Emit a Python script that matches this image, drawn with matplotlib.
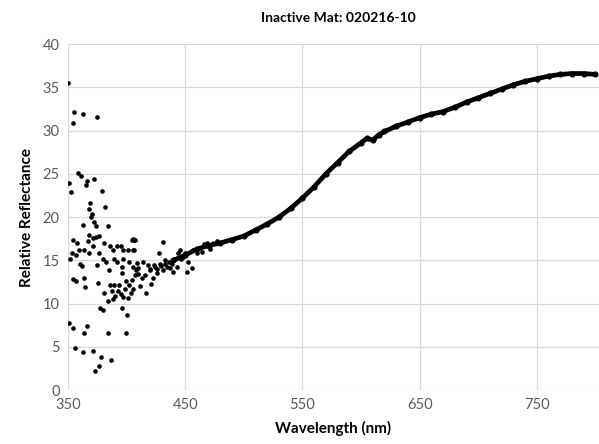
import matplotlib
matplotlib.use("Agg")
import matplotlib.pyplot as plt

plt.rcParams['font.family'] = ['Lato', 'DejaVu Sans']

# smooth part of the spectrum
wl_smooth = [440, 450, 460, 470, 480, 490, 500, 510, 520, 530, 540,
             550, 560, 570, 580, 590, 600, 605, 610, 615, 620, 630, 640, 650,
             660, 670, 680, 690, 700, 710, 720, 730, 740, 750, 760, 770, 780,
             790, 800]
refl_smooth = [15.0, 15.6, 16.3, 16.7, 17.0, 17.4, 17.8, 18.5, 19.2,
               20.0, 21.0, 22.2, 23.5, 25.0, 26.3, 27.6, 28.6, 29.1, 28.9, 29.5,
               29.9, 30.5, 31.0, 31.5, 31.9, 32.2, 32.7, 33.3, 33.8, 34.3, 34.8,
               35.3, 35.7, 36.0, 36.3, 36.5, 36.6, 36.6, 36.5]

# noisy short-wavelength points
wl_noise = [350.3, 355.1, 354.0, 363.0, 375.0, 358.8, 360.8, 351.1, 352.3, 365.9,
            365.3, 372.2, 379.0, 368.8, 368.2, 370.2, 369.6, 381.3, 362.5, 372.2,
            373.9, 383.8, 354.5, 357.4, 368.2, 371.0, 373.9, 376.7, 366.8, 371.6,
            363.6, 359.6, 353.1, 356.8, 351.7, 380.7, 385.8, 388.6, 392.0, 395.2,
            397.1, 404.3, 406.3, 401.4, 406.3, 368.2, 376.7, 379.6, 382.4, 389.2,
            391.5, 397.1, 402.3, 360.2, 361.7, 375.0, 385.2, 395.8, 395.8, 405.2,
            408.0, 410.0, 354.0, 356.8, 363.6, 364.5, 375.8, 385.8, 389.5, 393.7,
            399.4, 402.3, 387.3, 380.7, 392.9, 398.6, 403.5, 390.1, 388.1, 384.4,
            394.9, 397.1, 401.4, 377.3, 380.1, 395.8, 400.6, 351.1, 354.0, 365.9,
            363.6, 384.4, 399.4, 356.0, 363.0, 371.0, 377.9, 386.7, 376.7, 373.3,
            405.7, 407.1, 430.7, 405.7, 427.8, 408.5, 416.5, 411.4, 420.5, 422.7,
            437.0, 439.3, 438.4, 445.5, 444.0, 455.4, 451.2, 414.2, 418.5, 419.9,
            415.6, 412.8, 424.2, 425.6, 428.4, 431.2, 432.7, 434.1, 441.2, 442.7,
            448.3, 452.6, 459.7, 462.5, 468.2, 473.9, 409.9, 407.1, 404.3, 405.7,
            420.0, 423.0, 426.0, 429.0, 433.0, 436.0, 446.5, 449.5, 456.5, 464.0,
            466.0, 471.0, 477.0]
refl_noise = [35.5, 32.2, 30.9, 31.9, 31.6, 25.1, 24.8, 23.9, 22.9, 24.2,
              23.7, 24.4, 23.0, 21.6, 20.9, 20.3, 20.0, 21.2, 19.1, 19.4,
              19.0, 19.0, 17.3, 17.0, 17.9, 17.6, 17.7, 17.8, 17.2, 16.6,
              16.2, 16.2, 15.9, 15.6, 15.1, 17.0, 16.6, 16.2, 16.7, 16.6,
              16.2, 17.4, 17.3, 16.2, 16.2, 15.8, 15.8, 15.1, 14.8, 15.1,
              14.8, 15.1, 14.8, 14.6, 14.3, 14.4, 13.9, 14.2, 13.5, 14.2,
              13.9, 13.4, 12.8, 12.6, 13.0, 11.9, 12.4, 12.2, 12.2, 12.2,
              12.6, 12.1, 11.5, 11.2, 11.5, 11.7, 11.2, 10.9, 10.5, 10.3,
              11.1, 10.7, 10.6, 9.5, 9.3, 9.5, 8.7, 7.8, 7.2, 7.4,
              6.6, 6.6, 6.6, 4.9, 4.4, 4.5, 3.8, 3.5, 2.8, 2.2,
              17.5, 17.3, 17.1, 16.2, 15.9, 14.7, 11.2, 12.0, 12.3, 12.9,
              14.1, 13.7, 14.6, 16.2, 15.8, 14.1, 13.7, 14.8, 14.4, 13.9,
              13.3, 12.9, 14.2, 13.5, 14.6, 13.9, 15.0, 14.2, 15.2, 14.2,
              15.4, 14.8, 15.8, 16.4, 17.0, 17.0, 14.1, 13.3, 12.7, 11.7,
              14.0, 14.5, 14.0, 14.3, 14.6, 14.8, 15.1, 15.9, 16.2, 16.0,
              16.9, 16.3, 17.2]

x_ticks = [350, 450, 550, 650, 750]
y_ticks = [0, 5, 10, 15, 20, 25, 30, 35, 40]

fig = plt.figure(figsize=(5.99, 4.44), dpi=100)
ax = fig.add_axes([0.1135, 0.1216, 0.8865, 0.779])

ax.plot(wl_smooth, refl_smooth, color='black', lw=3.4, solid_capstyle='round',
        marker='o', ms=3.4, zorder=3)
ax.scatter(wl_noise, refl_noise, s=11, color='black', zorder=3, linewidths=0)

ax.set_xlim(350, 803)
ax.set_ylim(0, 40)
ax.set_xticks(x_ticks)
ax.set_yticks(y_ticks)
ax.grid(True, color='#d9d9d9', lw=0.9)
ax.set_axisbelow(True)
for s in ax.spines.values():
    s.set_visible(False)
ax.tick_params(length=0, labelsize=10.5, colors='#595959', pad=6)

ax.set_xlabel('Wavelength (nm)', fontsize=11, fontweight='bold', labelpad=6)
ax.set_ylabel('Relative Reflectance', fontsize=11, fontweight='bold', labelpad=6)
fig.text(0.565, 0.96, 'Inactive Mat: 020216-10', ha='center', va='center',
         fontsize=10, fontweight='bold')

fig.savefig('out.png', dpi=100)
